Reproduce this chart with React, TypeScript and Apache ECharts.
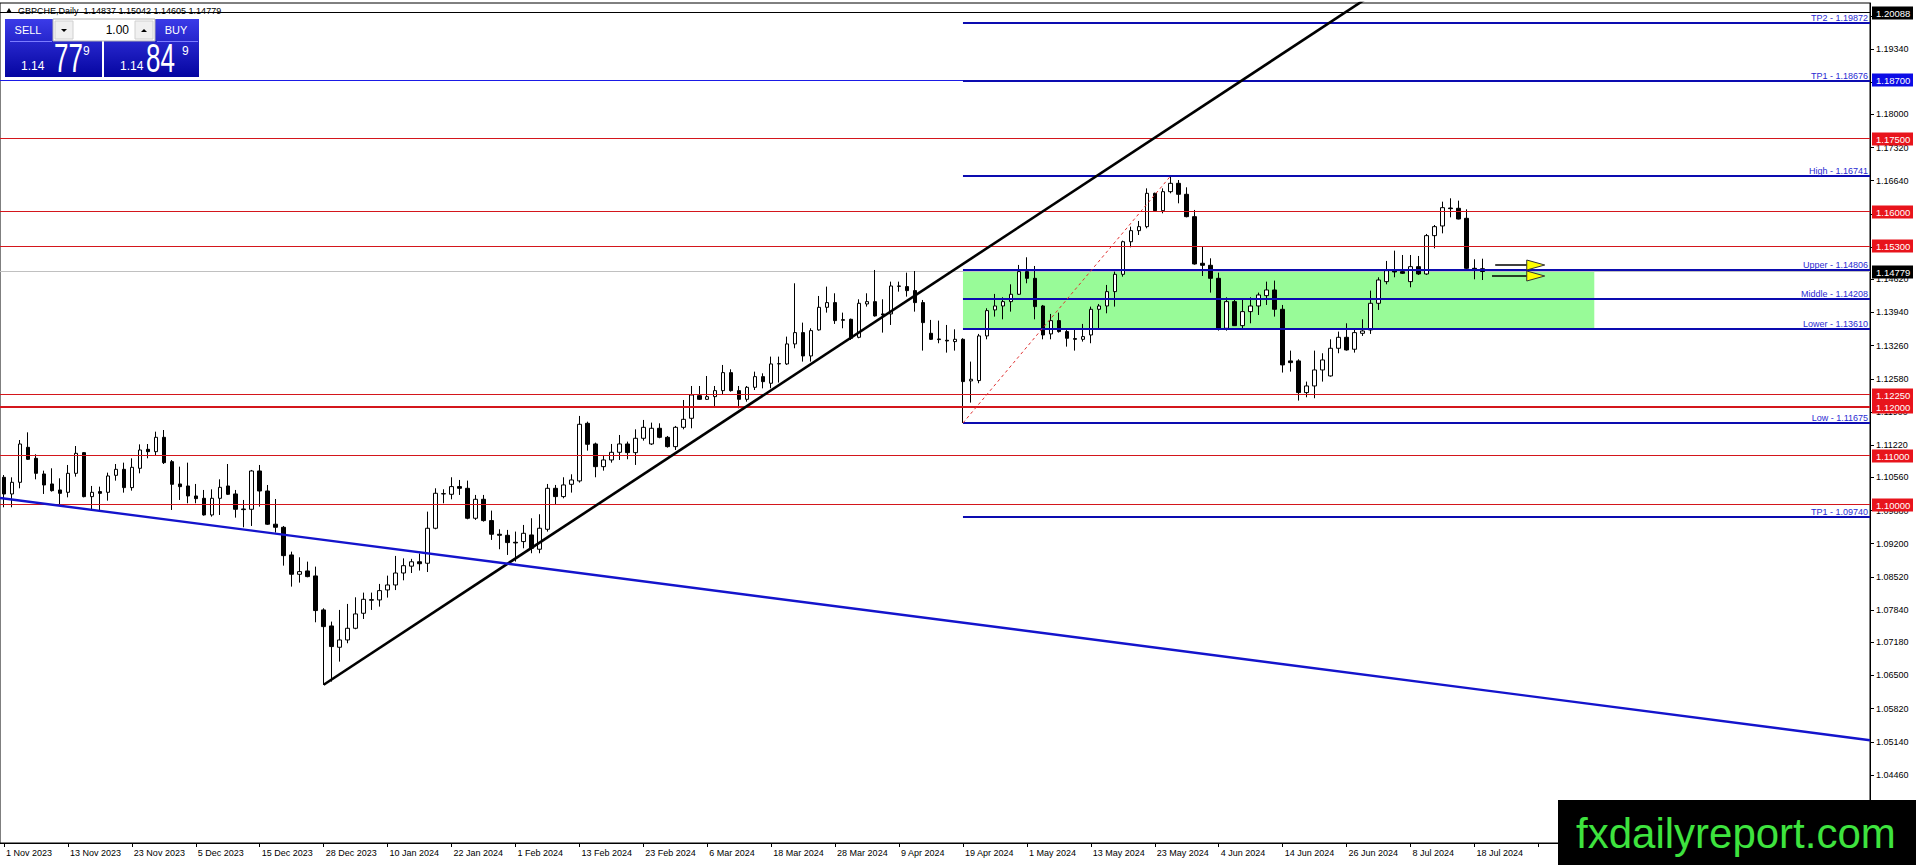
import React, { useEffect, useRef } from "react";
import * as echarts from "echarts";

const tickLabels = ["1 Nov 2023","13 Nov 2023","23 Nov 2023","5 Dec 2023","15 Dec 2023","28 Dec 2023","10 Jan 2024","22 Jan 2024","1 Feb 2024","13 Feb 2024","23 Feb 2024","6 Mar 2024","18 Mar 2024","28 Mar 2024","9 Apr 2024","19 Apr 2024","1 May 2024","13 May 2024","23 May 2024","4 Jun 2024","14 Jun 2024","26 Jun 2024","8 Jul 2024","18 Jul 2024"];

const opens = [1.10561,1.10220,1.10459,1.11176,1.10951,1.10630,1.10425,1.10302,1.10254,1.10643,
1.11067,1.10165,1.10268,1.10254,1.10602,1.10725,1.10350,1.10746,1.11135,1.11087,
1.11381,1.10882,1.10425,1.10384,1.10179,1.10131,1.09790,1.10131,1.10384,1.10220,
1.09912,1.09906,1.10691,1.10281,1.09600,1.09537,1.08970,1.08574,1.08642,1.08540,
1.07843,1.07515,1.07078,1.07228,1.07467,1.07775,1.08041,1.08048,1.08253,1.08355,
1.08600,1.08740,1.08830,1.08800,1.09517,1.10220,1.10213,1.10371,1.10336,1.09722,
1.10111,1.09674,1.09394,1.09373,1.09230,1.09244,1.09380,1.09087,1.09496,1.10336,
1.10166,1.10418,1.10487,1.11668,1.11245,1.10780,1.10917,1.11074,1.11245,1.11067,
1.11361,1.11245,1.11566,1.11381,1.11190,1.11586,1.11771,1.12235,1.12160,1.12215,
1.12338,1.12707,1.12338,1.12160,1.12406,1.12625,1.12489,1.12885,1.12885,1.13295,
1.13527,1.13049,1.13582,1.14046,1.14142,1.13793,1.13800,1.13431,1.14114,1.14162,
1.13910,1.13910,1.14483,1.14470,1.14388,1.14142,1.13513,1.13397,1.13370,1.13343,
1.13390,1.12537,1.12544,1.13459,1.13992,1.14073,1.14162,1.14313,1.14777,1.14640,
1.14073,1.13500,1.13773,1.13548,1.13404,1.13390,1.13479,1.14005,1.14073,1.14367,
1.14722,1.15390,1.15617,1.15699,1.16382,1.16027,1.16416,1.16587,1.16362,1.15904,
1.14948,1.14907,1.14640,1.13616,1.14162,1.13670,1.13957,1.14073,1.14285,1.14401,
1.14005,1.12947,1.12947,1.12298,1.12434,1.12762,1.12639,1.13206,1.13431,1.13186,
1.13513,1.13582,1.14128,1.14572,1.14811,1.14777,1.14572,1.14879,1.14729,1.15515,
1.15713,1.16081,1.16075,1.15870,1.14845,1.14837];

const highs = [1.10609,1.10561,1.11326,1.11483,1.11033,1.10698,1.10746,1.10541,1.10814,1.11203,
1.11080,1.10384,1.10370,1.10657,1.10834,1.10862,1.10951,1.11237,1.11244,1.11497,
1.11531,1.10916,1.10780,1.10862,1.10425,1.10302,1.10315,1.10520,1.10834,1.10302,
1.10097,1.10712,1.10814,1.10404,1.10117,1.09564,1.09038,1.08922,1.08833,1.08731,
1.07877,1.07604,1.07843,1.07966,1.08102,1.08198,1.08198,1.08376,1.08546,1.08950,
1.08900,1.08890,1.09000,1.09858,1.10336,1.10316,1.10562,1.10507,1.10494,1.10200,
1.10200,1.09879,1.09496,1.09483,1.09449,1.09585,1.09722,1.09804,1.10425,1.10405,
1.10562,1.10623,1.11819,1.11702,1.11272,1.11019,1.11245,1.11429,1.11293,1.11545,
1.11737,1.11682,1.11668,1.11409,1.11614,1.12146,1.12433,1.12433,1.12638,1.12433,
1.12864,1.12775,1.12433,1.12433,1.12727,1.12693,1.13035,1.13035,1.13445,1.14538,
1.13732,1.13616,1.14278,1.14470,1.14333,1.13937,1.13814,1.14210,1.14333,1.14811,
1.14210,1.14572,1.14572,1.14756,1.14790,1.14196,1.13787,1.13773,1.13684,1.13595,
1.13411,1.12933,1.13500,1.14026,1.14320,1.14251,1.14517,1.14914,1.15071,1.14893,
1.14094,1.13910,1.13937,1.13582,1.13595,1.13705,1.14060,1.14114,1.14504,1.14777,
1.15412,1.15699,1.15815,1.16484,1.16396,1.16484,1.16741,1.16655,1.16505,1.16041,
1.15289,1.15050,1.14756,1.14251,1.14210,1.14196,1.14251,1.14347,1.14572,1.14593,
1.14094,1.13158,1.12981,1.12523,1.13158,1.13104,1.13390,1.13548,1.13718,1.13595,
1.13800,1.14388,1.14661,1.14996,1.15207,1.15118,1.15118,1.15098,1.15549,1.15733,
1.16211,1.16280,1.16232,1.16054,1.15030,1.15042];

const lows = [1.09947,1.09947,1.10336,1.10916,1.10520,1.10220,1.10268,1.09974,1.10151,1.10575,
1.10151,1.09906,1.09892,1.10083,1.10493,1.10247,1.10288,1.10643,1.10951,1.10998,
1.10834,1.09892,1.10097,1.10029,1.10029,1.09776,1.09755,1.09790,1.10199,1.09735,
1.09537,1.09564,1.09960,1.09585,1.09428,1.08751,1.08321,1.08403,1.08512,1.07590,
1.06306,1.06374,1.06784,1.07160,1.07447,1.07658,1.07843,1.07911,1.08096,1.08250,
1.08450,1.08600,1.08650,1.08620,1.09496,1.10029,1.10111,1.10200,1.09701,1.09688,
1.09653,1.09278,1.09087,1.08970,1.08834,1.09107,1.09005,1.09005,1.09449,1.09995,
1.10131,1.10248,1.10453,1.11108,1.10562,1.10698,1.10862,1.10917,1.10931,1.10815,
1.11313,1.11224,1.11361,1.11170,1.11122,1.11545,1.11566,1.12146,1.12146,1.12023,
1.12249,1.12317,1.11976,1.12112,1.12351,1.12385,1.12386,1.12503,1.12865,1.13206,
1.12933,1.12933,1.13568,1.13937,1.13705,1.13616,1.13377,1.13411,1.14060,1.13855,
1.13527,1.13684,1.14367,1.14265,1.13957,1.13158,1.13377,1.13309,1.13117,1.13158,
1.11675,1.12093,1.12489,1.13390,1.13855,1.13800,1.13957,1.14299,1.14538,1.13800,
1.13390,1.13390,1.13527,1.13240,1.13158,1.13343,1.13309,1.13582,1.13923,1.14060,
1.14674,1.15276,1.15528,1.15665,1.16006,1.15972,1.16382,1.16177,1.15890,1.14920,
1.14688,1.14347,1.13568,1.13568,1.13664,1.13616,1.13718,1.13889,1.14094,1.13855,
1.12708,1.12728,1.12134,1.12202,1.12182,1.12523,1.12625,1.13104,1.13158,1.13117,
1.13459,1.13500,1.13992,1.14517,1.14661,1.14729,1.14456,1.14709,1.14709,1.15255,
1.15562,1.15890,1.15849,1.14825,1.14620,1.14605];

const closes = [1.10220,1.10459,1.11244,1.10930,1.10643,1.10404,1.10288,1.10233,1.10643,1.11053,
1.10165,1.10254,1.10233,1.10589,1.10725,1.10350,1.10766,1.11121,1.11087,1.11381,
1.10862,1.10418,1.10370,1.10179,1.10124,1.09790,1.10131,1.10356,1.10213,1.09906,
1.09899,1.10691,1.10281,1.09600,1.09537,1.08956,1.08574,1.08628,1.08526,1.07830,
1.07501,1.07092,1.07228,1.07467,1.07761,1.08061,1.08055,1.08239,1.08355,1.08600,
1.08750,1.08830,1.08790,1.09517,1.10234,1.10227,1.10371,1.10336,1.09722,1.10111,
1.09674,1.09394,1.09373,1.09223,1.09216,1.09414,1.09107,1.09517,1.10336,1.10166,
1.10405,1.10507,1.11648,1.11238,1.10780,1.10917,1.11074,1.11245,1.11067,1.11361,
1.11586,1.11566,1.11381,1.11190,1.11586,1.11750,1.12249,1.12160,1.12215,1.12338,
1.12707,1.12338,1.12160,1.12406,1.12625,1.12522,1.12885,1.12892,1.13295,1.13527,
1.13049,1.13568,1.14046,1.14142,1.13773,1.13780,1.13411,1.14128,1.14162,1.13869,
1.13890,1.14483,1.14476,1.14388,1.14142,1.13732,1.13390,1.13384,1.13356,1.13390,
1.12523,1.12571,1.13459,1.13978,1.14073,1.14162,1.14313,1.14777,1.14640,1.14060,
1.13479,1.13773,1.13548,1.13411,1.13390,1.13445,1.14005,1.14073,1.14367,1.14722,
1.15390,1.15617,1.15699,1.16382,1.16027,1.16416,1.16587,1.16362,1.15904,1.14934,
1.14907,1.14640,1.13595,1.14162,1.13670,1.13957,1.14073,1.14299,1.14401,1.14005,
1.12865,1.12912,1.12298,1.12434,1.12762,1.12967,1.13206,1.13431,1.13172,1.13527,
1.13561,1.14128,1.14606,1.14797,1.14770,1.14743,1.14879,1.14729,1.15515,1.15699,
1.16088,1.16068,1.15856,1.14845,1.14811,1.14779];

const priceTicks = ["1.20020","1.19340","1.18660","1.18000","1.17320","1.16640","1.15960","1.15280","1.14620","1.13940","1.13260","1.12580","1.11900","1.11220","1.10560","1.09880","1.09200","1.08520","1.07840","1.07180","1.06500","1.05820","1.05140","1.04460"];

const redLevels = [1.175, 1.16, 1.153, 1.1225, 1.12, 1.11, 1.10];
const boldRedLevel = 1.12;
const blueFullLevel = 1.187;
const blackFullLevel = 1.20088;
const bidPrice = 1.14779;
const levelNames = ["TP2", "TP1", "High", "Upper", "Middle", "Lower", "Low", "TP1"];
const levelValues = [1.19872, 1.18676, 1.16741, 1.14806, 1.14208, 1.1361, 1.11675, 1.0974];
const zoneStartBar = 120;
const zoneEndBar = 199;
const zoneTop = 1.14806;
const zoneBottom = 1.1361;
const upTrend = [[40, 1.0631], [172, 1.2054]];
const downTrend = [[-0.5, 1.10138], [233.5, 1.05173]];
const fiboLine = [[120, 1.11675], [146, 1.16741]];
const arrowLevels = [1.1491, 1.1469];
const arrowFromBar = [186.6, 186.2];
const arrowToBar = 192.8;

const SLOTS = 234;
const Y_MIN = 1.03066;
const Y_MAX = 1.20283;
const FONT = "Liberation Sans";

const categories = Array.from({ length: SLOTS }, (_, i) =>
  i % 8 === 0 && tickLabels[i / 8] ? tickLabels[i / 8] : "#" + i
);

function App() {
  const ref = useRef<HTMLDivElement>(null);
  useEffect(() => {
    const chart = echarts.init(ref.current as HTMLDivElement, null, { renderer: "svg" });
    const snap = (y: number) => Math.round(y - 0.5) + 0.5;
    const tagValues = [...redLevels, blueFullLevel, blackFullLevel, bidPrice];
    const blueGrad = () =>
      new echarts.graphic.LinearGradient(0, 0, 0, 1, [
        { offset: 0, color: "#3b3be8" },
        { offset: 1, color: "#0505a0" },
      ]);
    const option: any = {
      animation: false,
      backgroundColor: "#ffffff",
      textStyle: { fontFamily: FONT },
      grid: {
        left: 0, right: 46, top: 3, bottom: 22,
        show: true, borderColor: "#000", borderWidth: 1, backgroundColor: "#fff",
        outerBoundsMode: "none",
      },
      xAxis: [
        {
          type: "category",
          data: categories,
          boundaryGap: true,
          axisLine: { show: true, onZero: false, lineStyle: { color: "#000", width: 1 } },
          axisTick: { show: true, interval: 7, alignWithLabel: true, length: 4, lineStyle: { color: "#000" } },
          axisLabel: {
            interval: 7, align: "left", margin: 5, padding: [0, 0, 0, 2],
            fontSize: 9, color: "#000", fontFamily: FONT,
            formatter: (v: string) => (v.charAt(0) === "#" ? "" : v),
          },
          splitLine: { show: false },
        },
        {
          type: "value", min: -0.5, max: SLOTS - 0.5, show: false,
          axisLine: { show: false, onZero: false }, axisTick: { show: false }, axisLabel: { show: false }, splitLine: { show: false },
        },
      ],
      yAxis: {
        type: "value", position: "right", min: Y_MIN, max: Y_MAX, scale: true,
        splitLine: { show: false },
        axisLine: { show: true, onZero: false, lineStyle: { color: "#000" } },
        axisTick: { show: true, length: 4, lineStyle: { color: "#000" }, customValues: priceTicks.map(Number) },
        axisLabel: {
          customValues: priceTicks.map(Number), margin: 6, fontSize: 9, color: "#000", fontFamily: FONT,
          formatter: (v: number) => v.toFixed(5),
        },
      },
      series: [
        {
          type: "custom", xAxisIndex: 1, yAxisIndex: 0, z: 1, silent: true,
          data: [[zoneStartBar, zoneTop, zoneEndBar, zoneBottom]],
          renderItem: (params: any, api: any) => {
            const a = api.coord([api.value(0), api.value(1)]);
            const b = api.coord([api.value(2), api.value(3)]);
            return { type: "rect", shape: { x: a[0], y: a[1], width: b[0] - a[0], height: b[1] - a[1] }, style: { fill: "#98fb98" } };
          },
        },
        {
          type: "custom", xAxisIndex: 1, yAxisIndex: 0, z: 1, silent: true,
          data: [[0, bidPrice]],
          renderItem: (params: any, api: any) => {
            const cs = params.coordSys;
            const y = snap(api.coord([0, api.value(1)])[1]);
            return { type: "line", shape: { x1: cs.x, y1: y, x2: cs.x + cs.width, y2: y }, style: { stroke: "#c0c0c0", lineWidth: 1 } };
          },
        },
        {
          type: "candlestick", xAxisIndex: 0, yAxisIndex: 0, z: 3, barWidth: 4,
          data: opens.map((o, i) => [o, closes[i], lows[i], highs[i]]),
          itemStyle: { color: "#ffffff", color0: "#000000", borderColor: "#000000", borderColor0: "#000000", borderWidth: 1 },
        },
        {
          type: "custom", xAxisIndex: 1, yAxisIndex: 0, z: 4, silent: true,
          data: [...redLevels, blueFullLevel, blackFullLevel].map((v) => [0, v]),
          renderItem: (params: any, api: any) => {
            const cs = params.coordSys;
            const v = api.value(1);
            const bold = v === boldRedLevel;
            const raw = api.coord([0, v])[1];
            const y = bold ? Math.round(raw) : snap(raw);
            const color = redLevels.indexOf(v) >= 0 ? "#d4161c" : v === blueFullLevel ? "#1a1ae6" : "#000000";
            return { type: "line", shape: { x1: cs.x, y1: y, x2: cs.x + cs.width, y2: y }, style: { stroke: color, lineWidth: bold ? 2 : 1 } };
          },
        },
        {
          type: "custom", xAxisIndex: 1, yAxisIndex: 0, z: 5, silent: true,
          data: levelValues.map((v) => [zoneStartBar, v]),
          renderItem: (params: any, api: any) => {
            const cs = params.coordSys;
            const p = api.coord([api.value(0), api.value(1)]);
            const y = Math.round(p[1]);
            const right = cs.x + cs.width;
            return {
              type: "group",
              children: [
                { type: "line", shape: { x1: p[0], y1: y, x2: right, y2: y }, style: { stroke: "#0c0cb0", lineWidth: 2 } },
                {
                  type: "text", x: right - 2, y: y - 1,
                  style: {
                    text: levelNames[params.dataIndex] + " - " + api.value(1).toFixed(5),
                    fill: "#2a2ad2", fontSize: 9, fontFamily: FONT, align: "right", verticalAlign: "bottom",
                  },
                },
              ],
            };
          },
        },
        {
          type: "line", xAxisIndex: 1, yAxisIndex: 0, z: 5, silent: true, symbol: "none", clip: true,
          data: upTrend, lineStyle: { color: "#000", width: 2.6 },
        },
        {
          type: "line", xAxisIndex: 1, yAxisIndex: 0, z: 5, silent: true, symbol: "none", clip: true,
          data: downTrend, lineStyle: { color: "#1414cc", width: 2.4 },
        },
        {
          type: "line", xAxisIndex: 1, yAxisIndex: 0, z: 5, silent: true, symbol: "none", clip: true,
          data: fiboLine, lineStyle: { color: "#e03030", width: 1, type: [3, 3] },
        },
        {
          type: "custom", xAxisIndex: 1, yAxisIndex: 0, z: 6, silent: true,
          data: arrowLevels.map((v, i) => [arrowFromBar[i], v]),
          renderItem: (params: any, api: any) => {
            const a = api.coord([api.value(0), api.value(1)]);
            const b = api.coord([arrowToBar, api.value(1)]);
            const y = Math.round(a[1]);
            const headStart = b[0] - 18;
            return {
              type: "group",
              children: [
                { type: "line", shape: { x1: a[0], y1: y, x2: headStart + 2, y2: y }, style: { stroke: "#000", lineWidth: 1.6 } },
                {
                  type: "polygon",
                  shape: { points: [[headStart, y - 5], [b[0], y], [headStart, y + 5]] },
                  style: { fill: "#ffff00", stroke: "#333", lineWidth: 1 },
                },
              ],
            };
          },
        },
        {
          type: "custom", xAxisIndex: 1, yAxisIndex: 0, z: 7, silent: true,
          data: tagValues.map((v) => [0, v]),
          renderItem: (params: any, api: any) => {
            const cs = params.coordSys;
            const v = api.value(1);
            const y = Math.round(api.coord([0, v])[1]);
            const x = cs.x + cs.width + 2;
            const bg = redLevels.indexOf(v) >= 0 ? "#e8141c" : v === blueFullLevel ? "#0c0ce6" : "#000000";
            return {
              type: "group",
              children: [
                { type: "rect", shape: { x: x, y: y - 6.5, width: 41, height: 13 }, style: { fill: bg } },
                {
                  type: "text", x: x + 4, y: y,
                  style: { text: v.toFixed(5), fill: "#fff", fontSize: 9.5, fontFamily: FONT, align: "left", verticalAlign: "middle" },
                },
              ],
            };
          },
        },
      ],
      graphic: [
        { type: "polygon", z: 100, shape: { points: [[6, 13], [12, 13], [9, 8]] }, style: { fill: "#000" } },
        {
          type: "text", z: 100, x: 18, y: 10.5,
          style: { text: "GBPCHE,Daily  1.14837 1.15042 1.14605 1.14779", fill: "#000", fontSize: 9, fontFamily: FONT, verticalAlign: "middle" },
        },
        { type: "rect", z: 100, shape: { x: 5, y: 19, width: 97, height: 58 }, style: { fill: blueGrad() } },
        { type: "rect", z: 100, shape: { x: 104, y: 19, width: 95, height: 58 }, style: { fill: blueGrad() } },
        { type: "rect", z: 101, shape: { x: 53, y: 19, width: 102, height: 22 }, style: { fill: "#ffffff", stroke: "#b0b0b0", lineWidth: 1 } },
        { type: "rect", z: 102, shape: { x: 55, y: 21, width: 18, height: 18 }, style: { fill: "#f0f0f0", stroke: "#d0d0d0", lineWidth: 1 } },
        { type: "rect", z: 102, shape: { x: 135, y: 21, width: 18, height: 18 }, style: { fill: "#f0f0f0", stroke: "#d0d0d0", lineWidth: 1 } },
        { type: "polygon", z: 103, shape: { points: [[61, 29], [67, 29], [64, 32]] }, style: { fill: "#000" } },
        { type: "polygon", z: 103, shape: { points: [[141, 32], [147, 32], [144, 29]] }, style: { fill: "#000" } },
        { type: "text", z: 103, x: 129, y: 30, style: { text: "1.00", fill: "#000", fontSize: 12, fontFamily: FONT, align: "right", verticalAlign: "middle" } },
        { type: "line", z: 101, shape: { x1: 10, y1: 41.5, x2: 52, y2: 41.5 }, style: { stroke: "#7c7cff", lineWidth: 1 } },
        { type: "line", z: 101, shape: { x1: 157, y1: 41.5, x2: 198, y2: 41.5 }, style: { stroke: "#7c7cff", lineWidth: 1 } },
        { type: "text", z: 103, x: 28, y: 30, style: { text: "SELL", fill: "#fff", fontSize: 11, fontFamily: FONT, align: "center", verticalAlign: "middle" } },
        { type: "text", z: 103, x: 176, y: 30, style: { text: "BUY", fill: "#fff", fontSize: 11, fontFamily: FONT, align: "center", verticalAlign: "middle" } },
        { type: "text", z: 103, x: 21, y: 72, style: { text: "1.14", fill: "#fff", fontSize: 12, fontFamily: FONT, verticalAlign: "bottom" } },
        { type: "text", z: 103, x: 54, y: 78, scaleX: 0.65, style: { text: "77", fill: "#fff", fontSize: 40, fontFamily: FONT, verticalAlign: "bottom" } },
        { type: "text", z: 103, x: 83, y: 45, style: { text: "9", fill: "#fff", fontSize: 12, fontFamily: FONT, verticalAlign: "top" } },
        { type: "text", z: 103, x: 120, y: 72, style: { text: "1.14", fill: "#fff", fontSize: 12, fontFamily: FONT, verticalAlign: "bottom" } },
        { type: "text", z: 103, x: 146, y: 78, scaleX: 0.65, style: { text: "84", fill: "#fff", fontSize: 40, fontFamily: FONT, verticalAlign: "bottom" } },
        { type: "text", z: 103, x: 182, y: 45, style: { text: "9", fill: "#fff", fontSize: 12, fontFamily: FONT, verticalAlign: "top" } },
        { type: "rect", z: 110, shape: { x: 1558, y: 800, width: 358, height: 65 }, style: { fill: "#000" } },
        {
          type: "text", z: 111, x: 1576, y: 833,
          style: { text: "fxdailyreport.com", fill: "#3ee33e", fontSize: 42, fontFamily: FONT, verticalAlign: "middle" },
        },
      ],
    };
    chart.setOption(option);
    return () => chart.dispose();
  }, []);
  return <div ref={ref} style={{ position: "fixed", left: 0, top: 0, width: 1916, height: 865 }} />;
}

export default App;
